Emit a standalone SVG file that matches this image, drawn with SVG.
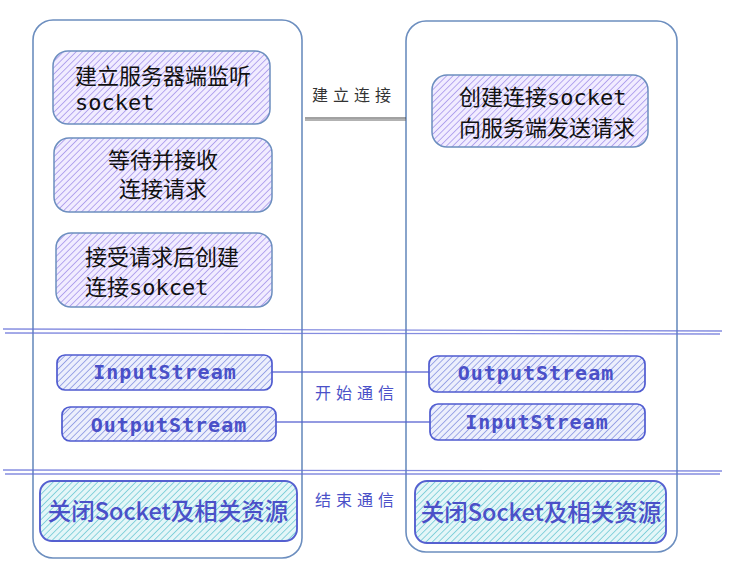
<svg xmlns="http://www.w3.org/2000/svg" width="745" height="574" viewBox="0 0 745 574">
<defs>
<pattern id="hp" width="4.5" height="4.5" patternUnits="userSpaceOnUse" patternTransform="rotate(45)">
<rect width="4.5" height="4.5" fill="#f1ecff"/><line x1="0" y1="0" x2="0" y2="4.5" stroke="#9c8ae8" stroke-width="1.4"/>
</pattern>
<pattern id="hb" width="4.5" height="4.5" patternUnits="userSpaceOnUse" patternTransform="rotate(45)">
<rect width="4.5" height="4.5" fill="#eceffc"/><line x1="0" y1="0" x2="0" y2="4.5" stroke="#7381dc" stroke-width="1.3"/>
</pattern>
<pattern id="hc" width="4.5" height="4.5" patternUnits="userSpaceOnUse" patternTransform="rotate(45)">
<rect width="4.5" height="4.5" fill="#e4f6f8"/><line x1="0" y1="0" x2="0" y2="4.5" stroke="#62c4d0" stroke-width="1.4"/>
</pattern>
</defs>
<style>
.cont{fill:#fff;stroke:#6c8ebf;stroke-width:1.6}
.pb{fill:url(#hp);stroke:#6c8ebf;stroke-width:1.5}
.sb{fill:url(#hb);stroke:#4f5bd0;stroke-width:1.7}
.cb{fill:url(#hc);stroke:#5560d0;stroke-width:1.9}
.t{font-family:"DejaVu Sans Mono","Noto Sans CJK SC",monospace;font-size:22px;fill:#111}
.tc{font-family:"Noto Sans CJK SC",sans-serif;font-size:22px;fill:#111}
.st{font-family:"DejaVu Sans Mono",monospace;font-size:20px;fill:#4a50c8;letter-spacing:1px;font-weight:bold}
.ct{font-family:"Noto Sans CJK SC",sans-serif;font-size:23.5px;fill:#4a50c8;font-weight:500}
.lb{font-family:"Noto Sans CJK SC",sans-serif;font-size:16px;letter-spacing:5px}
.sep{stroke:#6670d8;stroke-width:1.3;fill:none;opacity:0.8}
.cn{stroke:#5560d0;stroke-width:1.4;fill:none;opacity:0.85}
</style>
<g id="containers">
<rect id="left-container" class="cont" x="33" y="20" width="269" height="538" rx="20"/>
<rect id="right-container" class="cont" x="406" y="21" width="271" height="531" rx="20"/>
</g>
<g id="separators">
<line class="sep" x1="3" y1="329" x2="722" y2="331"/>
<line class="sep" x1="5" y1="333" x2="720" y2="334"/>
<line class="sep" x1="3" y1="470" x2="722" y2="471"/>
<line class="sep" x1="5" y1="474" x2="720" y2="474"/>
</g>
<g id="connectors">
<line x1="305" y1="118" x2="406" y2="118" stroke="#444" stroke-width="1"/>
<line x1="305" y1="120" x2="406" y2="120" stroke="#666" stroke-width="1"/>
<line class="cn" x1="272" y1="372" x2="430" y2="372"/>
<line class="cn" x1="276" y1="422" x2="430" y2="422"/>
</g>
<g id="label-connect"><text class="lb" x="312" y="101" fill="#333">建立连接</text></g>
<g id="label-start"><text class="lb" x="315" y="399" fill="#4a50c8">开始通信</text></g>
<g id="label-end"><text class="lb" x="315" y="506" fill="#4a50c8">结束通信</text></g>
<g id="server-listen">
<rect class="pb" x="53" y="51" width="217" height="73" rx="15"/>
<text class="t" x="75" y="84">建立服务器端监听</text>
<text class="t" x="75" y="110">socket</text>
</g>
<g id="server-wait">
<rect class="pb" x="54" y="138" width="218" height="74" rx="15"/>
<text class="tc" x="163" y="168" text-anchor="middle">等待并接收</text>
<text class="tc" x="163" y="197" text-anchor="middle">连接请求</text>
</g>
<g id="server-accept">
<rect class="pb" x="56" y="233" width="216" height="74" rx="15"/>
<text class="t" x="85" y="265">接受请求后创建</text>
<text class="t" x="85" y="295">连接sokcet</text>
</g>
<g id="client-create">
<rect class="pb" x="432" y="75" width="216" height="72" rx="15"/>
<text class="t" x="459" y="105">创建连接socket</text>
<text class="t" x="459" y="136">向服务端发送请求</text>
</g>
<g id="server-input">
<rect class="sb" x="57" y="355" width="215" height="35" rx="8"/>
<text class="st" x="165" y="379" text-anchor="middle">InputStream</text>
</g>
<g id="server-output">
<rect class="sb" x="62" y="407" width="214" height="34" rx="8"/>
<text class="st" x="169" y="432" text-anchor="middle">OutputStream</text>
</g>
<g id="client-output">
<rect class="sb" x="429" y="356" width="216" height="36" rx="8"/>
<text class="st" x="536" y="380" text-anchor="middle">OutputStream</text>
</g>
<g id="client-input">
<rect class="sb" x="430" y="404" width="215" height="36" rx="8"/>
<text class="st" x="537" y="429" text-anchor="middle">InputStream</text>
</g>
<g id="server-close">
<rect class="cb" x="40" y="481" width="257" height="60" rx="12"/>
<text class="ct" x="168" y="520" text-anchor="middle">关闭Socket及相关资源</text>
</g>
<g id="client-close">
<rect class="cb" x="415" y="481" width="251" height="62" rx="12"/>
<text class="ct" x="541" y="521" text-anchor="middle">关闭Socket及相关资源</text>
</g>
</svg>
